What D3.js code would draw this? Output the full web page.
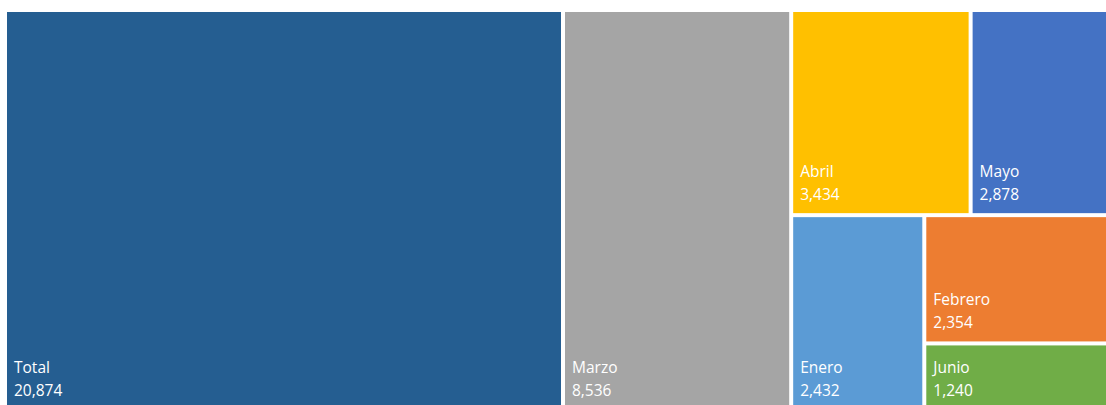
<!DOCTYPE html>
<html>
<head>
<meta charset="utf-8">
<script src="https://cdn.jsdelivr.net/npm/d3@7"></script>
<style>
  html, body { margin: 0; padding: 0; background: #fff; overflow: hidden; }
  svg { display: block; }
</style>
</head>
<body>
<svg id="chart" width="1106" height="405"></svg>
<script>
const categories = ["Total", "Marzo", "Abril", "Mayo", "Enero", "Febrero", "Junio"];
const values = [20874, 8536, 3434, 2878, 2432, 2354, 1240];
const colors = ["#255E91", "#A5A5A5", "#FFC000", "#4472C4", "#5B9BD5", "#ED7D31", "#70AD47"];

const svg = d3.select("#chart");
const W = 1112, H = 397;
const g = svg.append("g").attr("transform", "translate(7,12)");

// Squarified tiling (Excel-like orientation choice), placing rows with d3's dice/slice
function excelTile(parent, x0, y0, x1, y1) {
  const nodes = parent.children;
  let i0 = 0, n = nodes.length, value = parent.value;
  while (i0 < n) {
    const dx = x1 - x0, dy = y1 - y0;
    const horiz = dx < dy * 1.05;
    const side = horiz ? dx : dy;
    let i1 = i0, sum = 0, best = Infinity;
    while (i1 < n) {
      const s = sum + nodes[i1].value;
      const thick = (horiz ? dy : dx) * s / value;
      let worst = 0;
      for (let k = i0; k <= i1; k++) {
        const len = side * nodes[k].value / s;
        worst = Math.max(worst, len / thick, thick / len);
      }
      if (worst > best) break;
      best = worst; sum = s; i1++;
    }
    const row = { children: nodes.slice(i0, i1), value: sum };
    if (horiz) {
      const yy = value ? y0 + dy * sum / value : y1;
      d3.treemapDice(row, x0, y0, x1, yy); y0 = yy;
    } else {
      const xx = value ? x0 + dx * sum / value : x1;
      d3.treemapSlice(row, x0, y0, xx, y1); x0 = xx;
    }
    value -= sum; i0 = i1;
  }
}

const data = { name: "root", children: categories.map((c, i) => ({ name: c, value: values[i], color: colors[i] })) };
const root = d3.hierarchy(data).sum(d => d.value || 0).sort((a, b) => b.value - a.value);
d3.treemap().tile(excelTile).size([W, H]).paddingInner(4)(root);

const fmt = d3.format(",");
const leaf = g.selectAll("g.leaf").data(root.leaves()).join("g").attr("class", "leaf");
leaf.append("rect")
  .attr("x", d => d.x0).attr("y", d => d.y0)
  .attr("width", d => d.x1 - d.x0).attr("height", d => d.y1 - d.y0)
  .attr("fill", d => d.data.color);
leaf.append("text")
  .attr("x", d => d.x0 + 7).attr("y", d => d.y1 - 36)
  .attr("fill", "#fff").attr("font-family", "'Open Sans', sans-serif").attr("font-size", 15.5)
  .text(d => d.data.name);
leaf.append("text")
  .attr("x", d => d.x0 + 7).attr("y", d => d.y1 - 13)
  .attr("fill", "#fff").attr("font-family", "'Open Sans', sans-serif").attr("font-size", 15.5)
  .text(d => fmt(d.data.value));
</script>
</body>
</html>
